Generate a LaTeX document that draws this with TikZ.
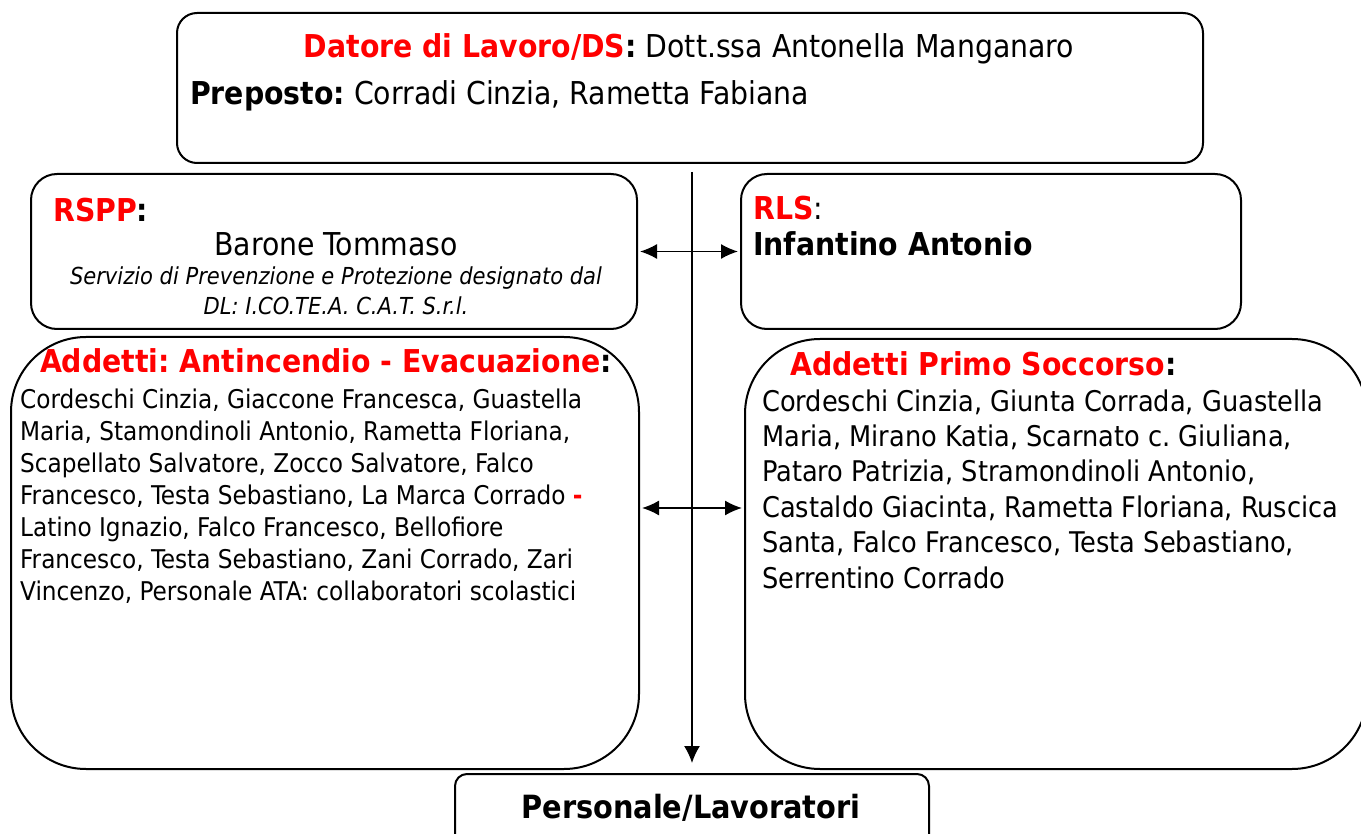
\documentclass[tikz,border=0pt]{standalone}
\usepackage{fontspec}
\setmainfont{DejaVu Sans Condensed}
\usetikzlibrary{arrows.meta,positioning}
\definecolor{headred}{RGB}{255,0,0}
\newcommand\hlred[1]{\textcolor{headred}{#1}}
\frenchspacing

\begin{document}
\begin{tikzpicture}[x=1pt,y=-1pt,
  box/.style={draw,line width=2pt,rounded corners=#1,inner sep=0pt,anchor=north west},
  box/.default=20pt,
  txt/.style={inner sep=0pt,align=left},
  big text/.style={font=\fontsize{31.5}{36}\selectfont},
  list text/.style={font=\fontsize{25.8}{32}\selectfont},
  wide list/.style={font=\fontsize{28.5}{35.4}\selectfont},
  link/.style={line width=1.5pt},
  two way/.style={arrows={Latex[length=17pt,width=15pt]-Latex[length=17pt,width=15pt]}},
  one way/.style={arrows={-Latex[length=17pt,width=16pt]}}]

  \useasboundingbox (0,0) rectangle (1361,834);

  % boxes
  \node[box=20pt,minimum width=1026pt,minimum height=150pt] (ds) at (176,12) {};
  \node[box=26pt,minimum width=606pt,minimum height=155pt] (rspp) at (30,173) {};
  \node[box=26pt,minimum width=500pt,minimum height=155pt] (rls) at (740,173) {};
  \node[box=75pt,minimum width=628pt,minimum height=432pt] (fire) at (10,336) {};
  \node[box=75pt,minimum width=622pt,minimum height=430pt] (aid) at (744,338) {};
  \node[box=12pt,minimum width=474pt,minimum height=80pt] (staff) at (454,773) {};

  % texts
  \node[txt,big text,anchor=base] (dshead) at (689,58)
    {\textbf{\hlred{Datore di Lavoro/DS}:} Dott.ssa Antonella Manganaro};
  \node[txt,big text,anchor=base west] (preposto) at (190,105)
    {\textbf{Preposto:} Corradi Cinzia, Rametta Fabiana};

  \node[txt,big text,anchor=base west] (rspphead) at (53,222) {\textbf{\hlred{RSPP}:}};
  \node[txt,big text,anchor=base] (rsppname) at (336,256) {Barone Tommaso};
  \node[txt,align=center,anchor=base,font=\fontsize{23.4}{30}\itshape] (rsppnote) at (336,315)
    {Servizio di Prevenzione e Protezione designato dal\\ DL: I.CO.TE.A. C.A.T. S.r.l.};

  \node[txt,big text,anchor=base west] (rlshead) at (753,220) {\textbf{\hlred{RLS}}:};
  \node[txt,big text,anchor=base west] (rlsname) at (753,256) {\textbf{Infantino Antonio}};

  \node[txt,big text,anchor=base] (firehead) at (326,373)
    {\textbf{\hlred{Addetti: Antincendio - Evacuazione}:}};
  \node[txt,list text,anchor=base west] (firelist) at (20,600)
    {Cordeschi Cinzia, Giaccone Francesca, Guastella\\
     Maria, Stamondinoli Antonio, Rametta Floriana,\\
     Scapellato Salvatore, Zocco Salvatore, Falco\\
     Francesco, Testa Sebastiano, La Marca Corrado \textbf{\hlred{-}}\\
     Latino Ignazio, Falco Francesco, Bellofiore\\
     Francesco, Testa Sebastiano, Zani Corrado, Zari\\
     Vincenzo, Personale ATA: collaboratori scolastici};

  \node[txt,big text,anchor=base west] (aidhead) at (790,376)
    {\textbf{\hlred{Addetti Primo Soccorso}:}};
  \node[txt,wide list,anchor=base west] (aidlist) at (762,588)
    {Cordeschi Cinzia, Giunta Corrada, Guastella\\
     Maria, Mirano Katia, Scarnato c. Giuliana,\\
     Pataro Patrizia, Stramondinoli Antonio,\\
     Castaldo Giacinta, Rametta Floriana, Ruscica\\
     Santa, Falco Francesco, Testa Sebastiano,\\
     Serrentino Corrado};

  \node[txt,font=\fontsize{32}{36}\selectfont\bfseries,anchor=base] (staffname) at (691,818)
    {Personale/Lavoratori};

  % connectors
  \draw[link,one way,shorten <=8pt,shorten >=10pt] (staff.north |- ds.south) -- (staff.north);
  \draw[link,two way,shorten <=2pt,shorten >=2pt] (rspp.east) -- (rls.west);
  \draw[link,two way,shorten <=2pt,shorten >=2pt] ([yshift=45pt]fire.east) -- ([yshift=46pt]aid.west);
\end{tikzpicture}
\end{document}
